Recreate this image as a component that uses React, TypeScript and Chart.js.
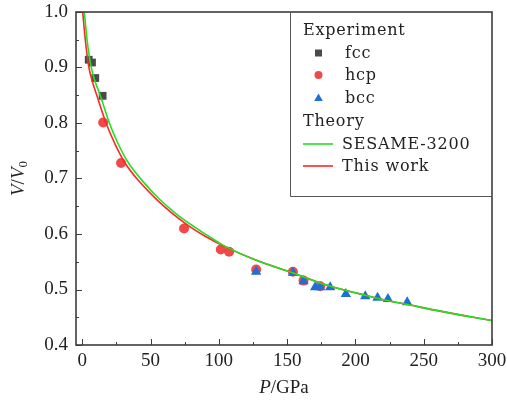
import React, { useEffect, useRef } from 'react';
import { Chart, registerables } from 'chart.js';

Chart.register(...registerables);

// Experimental data (P in GPa, V/V0)
const fccP = [4.7, 7.1, 9.5, 14.9];
const fccV = [0.914, 0.909, 0.881, 0.849];

const hcpP = [15.3, 28.4, 74.5, 101.4, 107.5, 127.3, 154.2, 162.0, 174.2];
const hcpV = [0.801, 0.728, 0.610, 0.572, 0.568, 0.536, 0.532, 0.516, 0.506];

const bccP = [127.3, 154.2, 162.0, 170.5, 174.2, 181.5, 193.0, 207.2, 216.2, 223.8, 237.9];
const bccV = [0.532, 0.530, 0.515, 0.504, 0.504, 0.504, 0.492, 0.488, 0.485, 0.483, 0.477];

// Theory curves
const sesameP = [1.5, 3.5, 6.4, 9.5, 13, 19.8, 26, 33, 45, 56.4, 69, 82.6, 92, 103, 127, 154, 175, 200, 218, 240, 262, 300];
const sesameV = [1.0, 0.95, 0.902, 0.874, 0.851, 0.80, 0.764, 0.731, 0.693, 0.663, 0.636, 0.612, 0.597, 0.580, 0.553, 0.530, 0.511, 0.494, 0.483, 0.472, 0.461, 0.444];

const thisWorkP = [0.3, 2.2, 4.7, 7.5, 10.5, 17.4, 24, 31.3, 42, 54.5, 67, 79, 90, 103, 127, 154, 175, 200, 218, 240, 262, 300];
const thisWorkV = [1.0, 0.95, 0.902, 0.874, 0.851, 0.80, 0.762, 0.728, 0.694, 0.662, 0.635, 0.613, 0.596, 0.579, 0.553, 0.530, 0.511, 0.494, 0.483, 0.472, 0.461, 0.444];

const xTicks = [0, 50, 100, 150, 200, 250, 300];
const yTicks = [0.4, 0.5, 0.6, 0.7, 0.8, 0.9, 1.0];

const toXY = (xs: number[], ys: number[]) => xs.map((x, i) => ({ x, y: ys[i] }));

const COL_FCC = '#4a4a4a';
const COL_HCP = 'rgba(240,62,62,0.95)';
const COL_BCC = '#1f6fd6';
const COL_GREEN = '#22e022';
const COL_RED = '#ff2626';
const TEXT = '#222222';
const AXIS = '#3c3c3c';
const TICK_FONT = '"Liberation Serif"';

const framePlugin = {
  id: 'frameTicks',
  afterDatasetsDraw(chart: any) {
    const { ctx, chartArea } = chart;
    const { left, right, top, bottom } = chartArea;
    const xs = chart.scales.x;
    const ys = chart.scales.y;
    ctx.save();
    ctx.strokeStyle = AXIS;
    ctx.lineWidth = 1;
    for (let v = 0; v <= 300; v += 25) {
      const px = Math.round(xs.getPixelForValue(v)) + 0.5;
      const len = v % 50 === 0 ? 6 : 3;
      ctx.beginPath();
      ctx.moveTo(px, bottom);
      ctx.lineTo(px, bottom - len);
      ctx.stroke();
    }
    for (let k = 0; k <= 12; k++) {
      const v = 0.4 + k * 0.05;
      const py = Math.round(ys.getPixelForValue(v)) + 0.5;
      const len = k % 2 === 0 ? 6 : 3;
      ctx.beginPath();
      ctx.moveTo(left, py);
      ctx.lineTo(left + len, py);
      ctx.stroke();
    }
    ctx.lineWidth = 1.6;
    ctx.strokeRect(left, top, right - left, bottom - top);
    ctx.restore();
  },
};

const drawTriangle = (ctx: CanvasRenderingContext2D, x: number, y: number, r: number) => {
  ctx.beginPath();
  ctx.moveTo(x, y - r);
  ctx.lineTo(x + r * Math.sin((2 * Math.PI) / 3), y - r * Math.cos((2 * Math.PI) / 3));
  ctx.lineTo(x + r * Math.sin((4 * Math.PI) / 3), y - r * Math.cos((4 * Math.PI) / 3));
  ctx.closePath();
  ctx.fill();
};

const legendPlugin = {
  id: 'customLegend',
  afterDraw(chart: any) {
    const { ctx, chartArea } = chart;
    const { right, top } = chartArea;
    ctx.save();
    const bx = 290.5;
    ctx.strokeStyle = '#555555';
    ctx.lineWidth = 1;
    ctx.beginPath();
    ctx.moveTo(bx, top);
    ctx.lineTo(bx, 196.5);
    ctx.lineTo(right, 196.5);
    ctx.stroke();

    ctx.fillStyle = TEXT;
    ctx.font = '16px "DejaVu Serif"';
    (ctx as any).letterSpacing = '0.8px';
    ctx.textBaseline = 'alphabetic';
    ctx.textAlign = 'left';
    ctx.fillText('Experiment', 303, 35);
    ctx.fillText('fcc', 345, 57.5);
    ctx.fillText('hcp', 345, 80);
    ctx.fillText('bcc', 345, 102.5);
    ctx.fillText('Theory', 303, 125.5);
    ctx.fillText('SESAME-3200', 342, 149);
    ctx.fillText('This work', 342, 171);
    (ctx as any).letterSpacing = '0px';

    ctx.fillStyle = COL_FCC;
    ctx.fillRect(315, 49.5, 7, 7);
    ctx.fillStyle = COL_HCP;
    ctx.beginPath();
    ctx.arc(318.5, 75, 4, 0, Math.PI * 2);
    ctx.fill();
    ctx.fillStyle = COL_BCC;
    drawTriangle(ctx, 318.5, 98.5, 5);

    ctx.lineWidth = 1.6;
    ctx.strokeStyle = COL_GREEN;
    ctx.beginPath();
    ctx.moveTo(303, 144);
    ctx.lineTo(333, 144);
    ctx.stroke();
    ctx.strokeStyle = COL_RED;
    ctx.beginPath();
    ctx.moveTo(303, 166);
    ctx.lineTo(333, 166);
    ctx.stroke();

    ctx.fillStyle = TEXT;
    const italic = 'italic 19px "Liberation Serif"';
    const normal = '19px "Liberation Serif"';
    const sub = '13px "Liberation Serif"';
    {
      const parts: [string, string, number][] = [
        ['P', italic, 0],
        ['/GPa', normal, 0],
      ];
      let w = 0;
      parts.forEach(([t, f]) => {
        ctx.font = f;
        w += ctx.measureText(t).width;
      });
      let x = (chartArea.left + chartArea.right) / 2 - w / 2;
      parts.forEach(([t, f, dy]) => {
        ctx.font = f;
        ctx.fillText(t, x, 393 + dy);
        x += ctx.measureText(t).width;
      });
    }
    {
      ctx.translate(24, (chartArea.top + chartArea.bottom) / 2);
      ctx.rotate(-Math.PI / 2);
      const parts: [string, string, number][] = [
        ['V', italic, 0],
        ['/', normal, 0],
        ['V', italic, 0],
        ['0', sub, 3],
      ];
      let w = 0;
      parts.forEach(([t, f]) => {
        ctx.font = f;
        w += ctx.measureText(t).width;
      });
      let x = -w / 2;
      parts.forEach(([t, f, dy]) => {
        ctx.font = f;
        ctx.fillText(t, x, dy);
        x += ctx.measureText(t).width;
      });
    }
    ctx.restore();
  },
};

export default function App() {
  const ref = useRef<HTMLCanvasElement | null>(null);

  useEffect(() => {
    document.body.style.margin = '0';
    const canvas = ref.current;
    if (!canvas) return;
    const chart = new Chart(canvas, {
      type: 'scatter',
      data: {
        datasets: [
          {
            label: 'SESAME-3200',
            data: toXY(sesameP, sesameV),
            showLine: true,
            borderColor: COL_GREEN,
            borderWidth: 1.6,
            pointRadius: 0,
            cubicInterpolationMode: 'monotone',
            order: 0,
          },
          {
            label: 'This work',
            data: toXY(thisWorkP, thisWorkV),
            showLine: true,
            borderColor: COL_RED,
            borderWidth: 1.6,
            pointRadius: 0,
            cubicInterpolationMode: 'monotone',
            order: 1,
          },
          {
            label: 'bcc',
            data: toXY(bccP, bccV),
            pointStyle: 'triangle',
            pointRadius: 6,
            backgroundColor: COL_BCC,
            borderWidth: 0,
            order: 2,
          },
          {
            label: 'hcp',
            data: toXY(hcpP, hcpV),
            pointStyle: 'circle',
            pointRadius: 5,
            backgroundColor: COL_HCP,
            borderWidth: 0,
            order: 3,
          },
          {
            label: 'fcc',
            data: toXY(fccP, fccV),
            pointStyle: 'rect',
            pointRadius: 5.5,
            backgroundColor: COL_FCC,
            borderWidth: 0,
            order: 4,
          },
        ] as any,
      },
      options: {
        responsive: false,
        animation: false,
        devicePixelRatio: 1,
        layout: { padding: { left: 0, top: 12, right: 15, bottom: 0 } },
        plugins: {
          legend: { display: false },
          tooltip: { enabled: false },
          title: { display: false },
        },
        scales: {
          x: {
            type: 'linear',
            min: -4.6,
            max: 300,
            grid: { display: false, drawTicks: false },
            border: { display: false },
            afterBuildTicks: (s: any) => {
              s.ticks = xTicks.map((v) => ({ value: v }));
            },
            afterFit: (s: any) => {
              s.height = 55;
              s.paddingLeft = 0;
              s.paddingRight = 0;
            },
            ticks: {
              padding: 5,
              color: TEXT,
              font: { family: TICK_FONT, size: 19 },
              maxRotation: 0,
              autoSkip: false,
              callback: (v: any) => String(v),
            },
          },
          y: {
            type: 'linear',
            min: 0.4,
            max: 1.0,
            grid: { display: false, drawTicks: false },
            border: { display: false },
            afterBuildTicks: (s: any) => {
              s.ticks = yTicks.map((v) => ({ value: v }));
            },
            afterFit: (s: any) => {
              s.width = 76;
              s.paddingTop = 0;
              s.paddingBottom = 0;
            },
            ticks: {
              padding: 8,
              color: TEXT,
              font: { family: TICK_FONT, size: 19 },
              autoSkip: false,
              callback: (v: any) => Number(v).toFixed(1),
            },
          },
        },
      } as any,
      plugins: [framePlugin, legendPlugin],
    });
    return () => chart.destroy();
  }, []);

  return (
    <div style={{ position: 'absolute', left: 0, top: 0, width: 507, height: 400, background: '#fff' }}>
      <canvas ref={ref} width={507} height={400} style={{ display: 'block' }} />
    </div>
  );
}
